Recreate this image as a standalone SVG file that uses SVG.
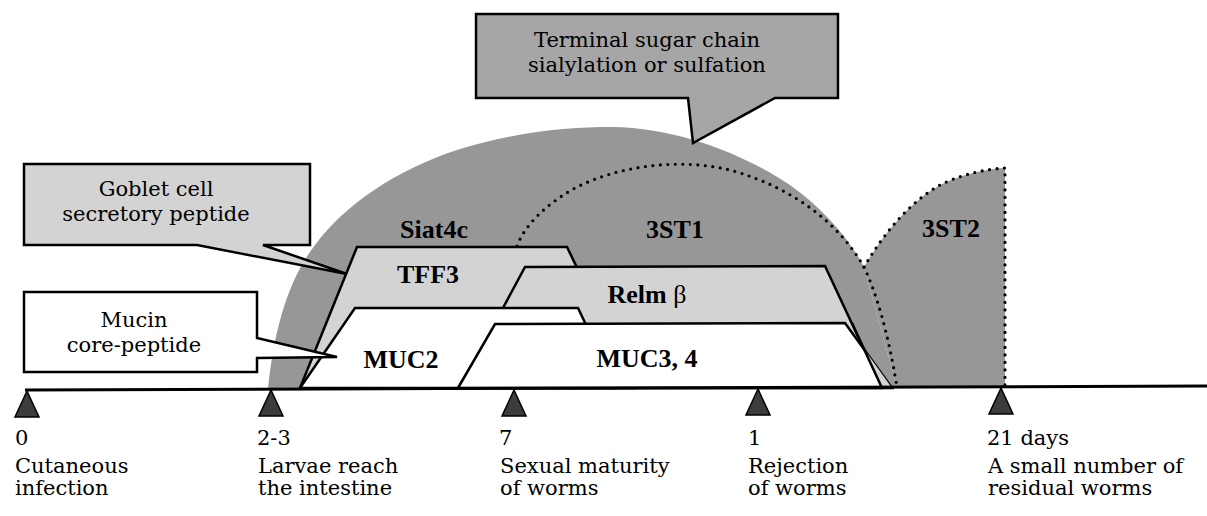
<svg xmlns="http://www.w3.org/2000/svg" width="1207" height="516" viewBox="0 0 1207 516">
<style>
.dark{fill:#979797;stroke:none}
.light{fill:#d3d3d3;stroke:#000;stroke-width:2.5;stroke-linejoin:miter}
.white{fill:#fff;stroke:#000;stroke-width:2.5}
.dots{fill:none;stroke:#000;stroke-width:3.2;stroke-dasharray:0 7.5;stroke-linecap:round}
.call{stroke:#000;stroke-width:2.5;stroke-linejoin:miter}
.lbl{font-family:"DejaVu Serif","Liberation Serif",serif;font-size:21px;fill:#000}
.bold{font-family:"Liberation Serif","Times New Roman",serif;font-size:26px;font-weight:bold;fill:#000;text-anchor:middle}
.tri{fill:#3c3c3c;stroke:#000;stroke-width:1.5}
</style>
<rect width="1207" height="516" fill="#fff"/>

<g id="dome-3st1">
<path class="dark" d="M268,389 C274,330 288,280 315,245 C345,205 395,170 460,149 C520,131 570,127 612,127 C680,128 745,155 790,185 C825,210 850,240 864,267 L897,388 Z"/>
</g>

<g id="dome-3st2">
<path class="dark" d="M897,388 L864,267 C880,240 905,205 940,185 C960,175 985,169 1005,168 L1005,388 Z"/>
<path class="dots" d="M864,267 C880,240 905,205 940,185 C960,175 985,169 1005,168 L1005,388"/>
<text class="bold" x="951" y="237">3ST2</text>
</g>

<g id="dome-3st1-outline">
<path class="dots" d="M517,246 C525,225 545,205 575,188 C620,165 680,158 730,170 C795,188 840,225 864,267 C875,290 888,330 897,388"/>
<text class="bold" x="675" y="238">3ST1</text>
</g>

<g id="siat4c">
<text class="bold" x="434" y="238">Siat4c</text>
</g>

<g id="tff3">
<path class="light" d="M300,388 L357,247 L567,247 L635,388 Z"/>
<text class="bold" x="428" y="283">TFF3</text>
</g>

<g id="relm">
<path class="light" d="M460,388 L525,267 L825,266 L882,388 Z"/>
<text class="bold" x="647" y="303">Relm <tspan font-weight="normal">β</tspan></text>
</g>

<g id="muc2">
<path class="white" d="M300,388 L355,308 L578,308 L616,388 Z"/>
<text class="bold" x="401" y="368">MUC2</text>
</g>

<g id="muc34">
<path class="white" d="M458,388 L495,324 L845,323 L892,388 Z"/>
<path d="M864,349 L882,388 L892,388 Z" fill="#d3d3d3"/>
<path d="M852,323 L882,388" stroke="#000" stroke-width="2.5" fill="none"/>
<text class="bold" x="647" y="367">MUC3, 4</text>
</g>

<g id="connectors">
<path d="M25,390 L1207,386" stroke="#000" stroke-width="3" fill="none"/>
</g>

<g id="callout-terminal">
<path class="call" fill="#a6a6a6" d="M476,14 H838 V98 H775 L693,143 L688,98 H476 Z"/>
<text class="lbl" x="647" y="47" text-anchor="middle">Terminal sugar chain</text>
<text class="lbl" x="647" y="72" text-anchor="middle">sialylation or sulfation</text>
</g>

<g id="callout-goblet">
<path class="call" fill="#d3d3d3" d="M24,164 H310 V245 H263 L347,274 L197,245 H24 Z"/>
<text class="lbl" x="156" y="196" text-anchor="middle">Goblet cell</text>
<text class="lbl" x="156" y="221" text-anchor="middle">secretory peptide</text>
</g>

<g id="callout-mucin">
<path class="call" fill="#fff" d="M24,292 H257 V338 L337,357 L257,358 V372 H24 Z"/>
<text class="lbl" x="134" y="327" text-anchor="middle">Mucin</text>
<text class="lbl" x="134" y="352" text-anchor="middle">core-peptide</text>
</g>

<g id="tick-0">
<path class="tri" d="M27,391 L39,417 L15,417 Z"/>
<text class="lbl" x="15" y="445">0</text>
<text class="lbl" x="15" y="473">Cutaneous</text>
<text class="lbl" x="15" y="495">infection</text>
</g>
<g id="tick-2-3">
<path class="tri" d="M271,390 L283,416 L259,416 Z"/>
<text class="lbl" x="257" y="445">2-3</text>
<text class="lbl" x="258" y="473">Larvae reach</text>
<text class="lbl" x="258" y="495">the intestine</text>
</g>
<g id="tick-7">
<path class="tri" d="M514,390 L526,416 L502,416 Z"/>
<text class="lbl" x="499" y="445">7</text>
<text class="lbl" x="500" y="473">Sexual maturity</text>
<text class="lbl" x="500" y="495">of worms</text>
</g>
<g id="tick-1">
<path class="tri" d="M758,389 L770,415 L746,415 Z"/>
<text class="lbl" x="748" y="445">1</text>
<text class="lbl" x="748" y="473">Rejection</text>
<text class="lbl" x="748" y="495">of worms</text>
</g>
<g id="tick-21">
<path class="tri" d="M1001,388 L1013,414 L989,414 Z"/>
<text class="lbl" x="987" y="445">21 days</text>
<text class="lbl" x="988" y="473">A small number of</text>
<text class="lbl" x="988" y="495">residual worms</text>
</g>
</svg>
